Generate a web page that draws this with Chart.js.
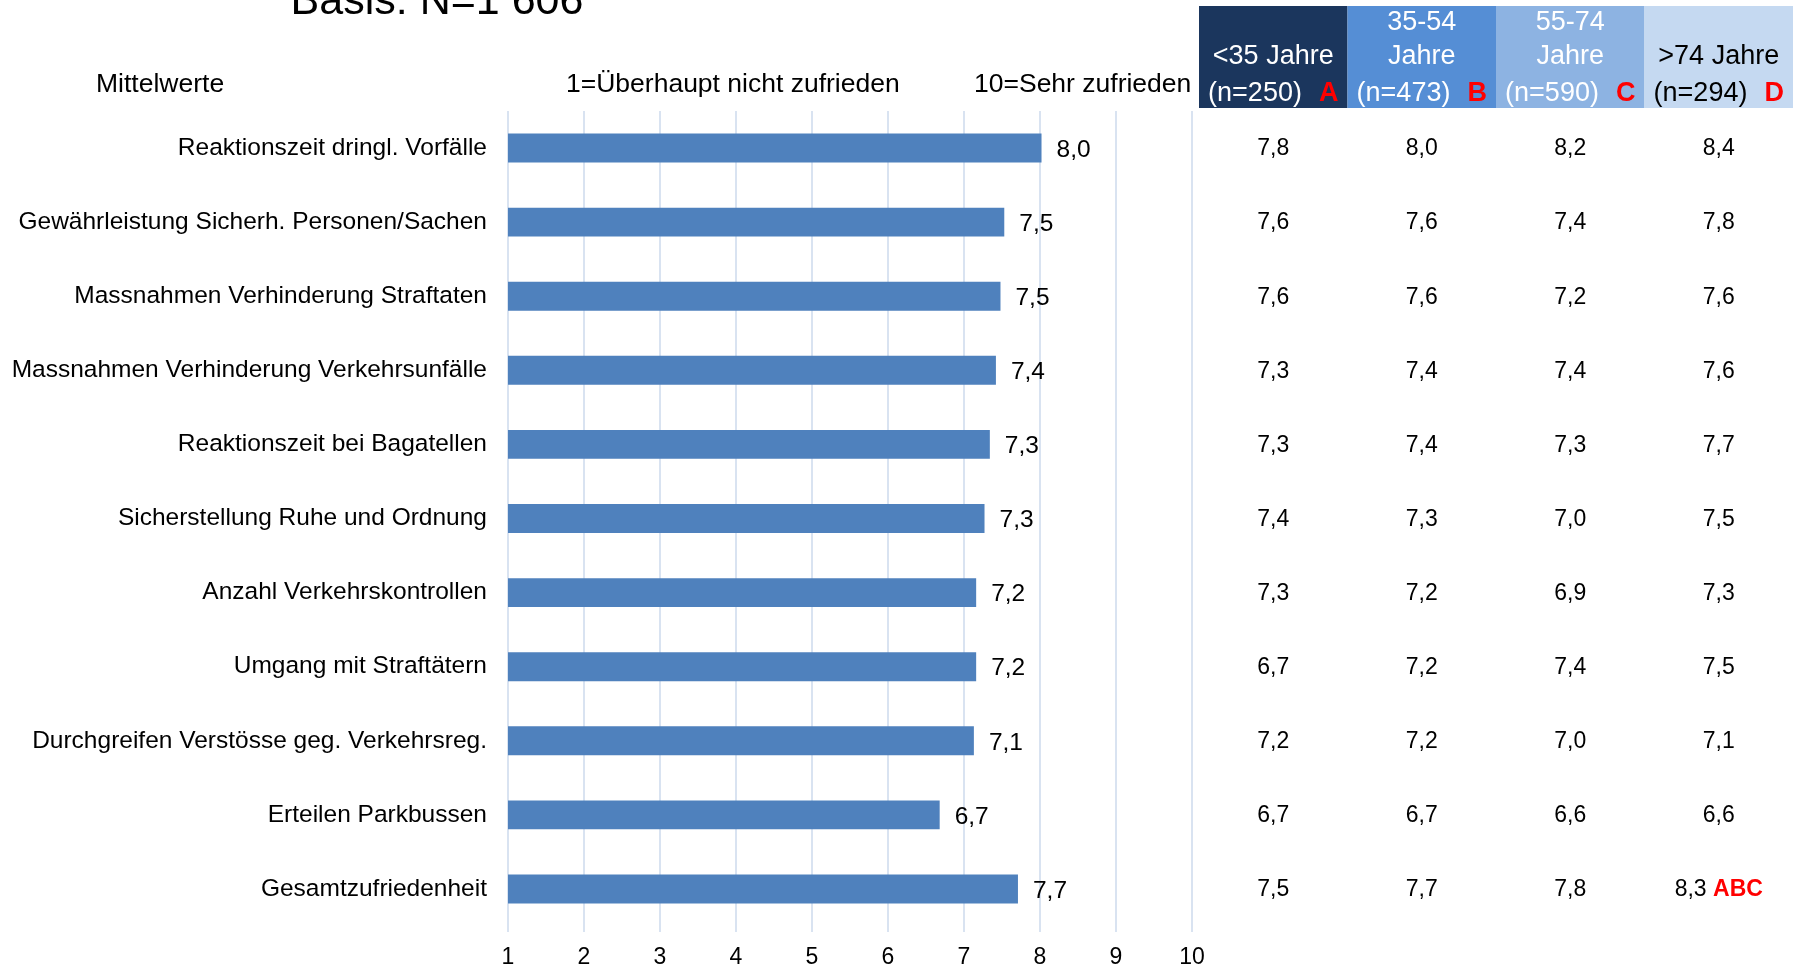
<!DOCTYPE html>
<html>
<head>
<meta charset="utf-8">
<script src="https://cdn.jsdelivr.net/npm/chart.js@4.4.1/dist/chart.umd.min.js"></script>
<style>
    html, body { margin: 0; padding: 0; background: #ffffff; }
    #wrap { width: 1798px; height: 968px; position: relative; }
</style>
</head>
<body>
<div id="wrap"><canvas id="meanChart"></canvas></div>
<script>
// Items and overall means
const categories = [
    'Reaktionszeit dringl. Vorfälle',
    'Gewährleistung Sicherh. Personen/Sachen',
    'Massnahmen Verhinderung Straftaten',
    'Massnahmen Verhinderung Verkehrsunfälle',
    'Reaktionszeit bei Bagatellen',
    'Sicherstellung Ruhe und Ordnung',
    'Anzahl Verkehrskontrollen',
    'Umgang mit Straftätern',
    'Durchgreifen Verstösse geg. Verkehrsreg.',
    'Erteilen Parkbussen',
    'Gesamtzufriedenheit'
];
const totalMeans = [8.02, 7.53, 7.48, 7.42, 7.34, 7.27, 7.16, 7.16, 7.13, 6.68, 7.71];

// Means by age group (table on the right)
const meansUnder35 = [7.8, 7.6, 7.6, 7.3, 7.3, 7.4, 7.3, 6.7, 7.2, 6.7, 7.5];
const means35to54 = [8.0, 7.6, 7.6, 7.4, 7.4, 7.3, 7.2, 7.2, 7.2, 6.7, 7.7];
const means55to74 = [8.2, 7.4, 7.2, 7.4, 7.3, 7.0, 6.9, 7.4, 7.0, 6.6, 7.8];
const meansOver74 = [8.4, 7.8, 7.6, 7.6, 7.7, 7.5, 7.3, 7.5, 7.1, 6.6, 8.3];
const sigOver74 = ['', '', '', '', '', '', '', '', '', '', 'ABC'];

const groupTitles = [['', '<35 Jahre'], ['35-54', 'Jahre'], ['55-74', 'Jahre'], ['', '>74 Jahre']];
const groupCounts = ['(n=250)', '(n=473)', '(n=590)', '(n=294)'];
const groupLetters = ['A', 'B', 'C', 'D'];
const groupColors = ['#1b365d', '#558ed5', '#8db3e2', '#c5d9f1'];
const groupTextColors = ['#ffffff', '#ffffff', '#ffffff', '#000000'];

const xTicks = [1, 2, 3, 4, 5, 6, 7, 8, 9, 10];

const FONT = "'Liberation Sans', Arial, sans-serif";

function fmt(v) {
    return v.toFixed(1).replace('.', ',');
}

// Draws headers, value labels and the age table
const extrasPlugin = {
    id: 'extras',
    afterDatasetsDraw(chart) {
        const ctx = chart.ctx;
        const yScale = chart.scales.y;
        ctx.save();

        // title (cut at the top edge)
        ctx.fillStyle = '#000';
        ctx.font = '43px ' + FONT;
        ctx.textAlign = 'center';
        ctx.textBaseline = 'alphabetic';
        ctx.fillText('Basis: N=1 606', 437, 14);

        // header labels
        ctx.font = '26.5px ' + FONT;
        ctx.textBaseline = 'middle';
        ctx.textAlign = 'left';
        ctx.fillText('Mittelwerte', 96, 85);
        ctx.fillText('1=Überhaupt nicht zufrieden', 566, 85);
        ctx.fillText('10=Sehr zufrieden', 974, 85);

        // value labels next to bars
        ctx.font = '24.5px ' + FONT;
        const meta = chart.getDatasetMeta(0);
        meta.data.forEach((bar, i) => {
            ctx.fillText(fmt(totalMeans[i]), bar.x + 15, bar.y + 2);
        });

        // table header
        const colLeft = 1199;
        const colW = 148.5;
        const lineY = [23, 57, 94];
        const hFont = '27px ' + FONT;
        const hBold = 'bold 27px ' + FONT;
        groupColors.forEach((c, k) => {
            const x0 = colLeft + k * colW;
            const cx = x0 + colW / 2;
            ctx.fillStyle = c;
            ctx.fillRect(x0, 6, colW, 102);
            ctx.font = hFont;
            ctx.textAlign = 'center';
            ctx.fillStyle = groupTextColors[k];
            if (groupTitles[k][0]) ctx.fillText(groupTitles[k][0], cx, lineY[0]);
            ctx.fillText(groupTitles[k][1], cx, lineY[1]);
            // count + letter as one centered group
            const wCount = ctx.measureText(groupCounts[k]).width;
            ctx.font = hBold;
            const wLetter = ctx.measureText(groupLetters[k]).width;
            const gap = 17;
            const start = cx - (wCount + gap + wLetter) / 2;
            ctx.textAlign = 'left';
            ctx.font = hFont;
            ctx.fillStyle = groupTextColors[k];
            ctx.fillText(groupCounts[k], start, lineY[2]);
            ctx.font = hBold;
            ctx.fillStyle = '#ff0000';
            ctx.fillText(groupLetters[k], start + wCount + gap, lineY[2]);
        });

        // table values
        const cols = [meansUnder35, means35to54, means55to74, meansOver74];
        ctx.textBaseline = 'middle';
        cols.forEach((arr, k) => {
            const cx = colLeft + k * colW + colW / 2;
            arr.forEach((v, i) => {
                const y = yScale.getPixelForValue(i) + 1;
                const txt = fmt(v);
                const sig = k === 3 ? sigOver74[i] : '';
                ctx.font = '23px ' + FONT;
                ctx.fillStyle = '#000';
                if (!sig) {
                    ctx.textAlign = 'center';
                    ctx.fillText(txt, cx, y);
                } else {
                    const w1 = ctx.measureText(txt + ' ').width;
                    ctx.font = 'bold 23px ' + FONT;
                    const w2 = ctx.measureText(sig).width;
                    const start = cx - (w1 + w2) / 2;
                    ctx.textAlign = 'left';
                    ctx.font = '23px ' + FONT;
                    ctx.fillStyle = '#000';
                    ctx.fillText(txt, start, y);
                    ctx.font = 'bold 23px ' + FONT;
                    ctx.fillStyle = '#ff0000';
                    ctx.fillText(sig, start + w1, y);
                }
            });
        });

        ctx.restore();
    }
};

new Chart(document.getElementById('meanChart').getContext('2d'), {
    type: 'bar',
    data: {
        labels: categories,
        datasets: [{
            data: totalMeans,
            backgroundColor: '#4f81bd',
            borderWidth: 0,
            barPercentage: 0.39,
            categoryPercentage: 1
        }]
    },
    options: {
        indexAxis: 'y',
        responsive: true,
        maintainAspectRatio: false,
        animation: false,
        layout: {
            padding: { left: 0, right: 606, top: 111, bottom: 0 }
        },
        plugins: {
            legend: { display: false },
            tooltip: { enabled: false }
        },
        scales: {
            x: {
                min: 1,
                max: 10,
                afterBuildTicks(axis) {
                    axis.ticks = xTicks.map(v => ({ value: v }));
                },
                afterFit(axis) {
                    axis.height = 42;
                },
                grid: {
                    color: '#d9e3f1',
                    lineWidth: 2,
                    tickLength: 6,
                    drawTicks: true
                },
                border: { display: false },
                ticks: {
                    color: '#000',
                    font: { family: FONT, size: 23 },
                    padding: 12,
                    maxRotation: 0
                }
            },
            y: {
                afterFit(axis) {
                    axis.width = 508;
                },
                grid: { display: false, drawTicks: false },
                border: { display: false },
                ticks: {
                    color: '#000',
                    font: { family: FONT, size: 24.5 },
                    padding: 21,
                    autoSkip: false
                }
            }
        }
    },
    plugins: [extrasPlugin]
});
</script>
</body>
</html>
